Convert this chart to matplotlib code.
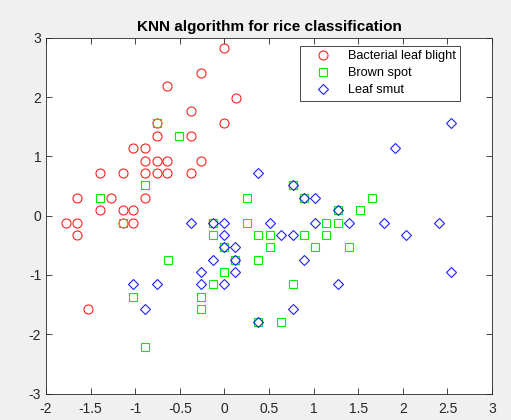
import matplotlib.pyplot as plt

plt.rcParams['font.family'] = ['Liberation Sans', 'DejaVu Sans']
plt.rcParams['axes.unicode_minus'] = False

# Bacterial leaf blight
blb_x = [0.0, -0.26, -0.64, 0.13, -0.38, 0.0, -0.76, -0.76, -0.38, -1.02, -0.89,
         -0.89, -0.76, -0.64, -0.26, -1.40, -1.14, -0.89, -0.76, -0.64, -0.38,
         -1.65, -1.27, -0.89, -1.40, -1.14, -1.02, -1.78, -1.65, -1.14, -1.02,
         -1.65, -1.53]
blb_y = [2.82, 2.40, 2.18, 1.98, 1.76, 1.56, 1.56, 1.34, 1.34, 1.14, 1.14,
         0.93, 0.93, 0.93, 0.93, 0.72, 0.72, 0.72, 0.72, 0.72, 0.72,
         0.30, 0.30, 0.30, 0.09, 0.09, 0.09, -0.12, -0.12, -0.12, -0.12,
         -0.33, -1.58]

# Brown spot
bs_x = [-0.76, -0.51, -0.89, -1.40, -1.14, 0.25, 0.77, 0.89, 1.65, 1.27, 1.52,
        -0.13, 0.25, 1.14, 1.27, -0.13, 0.38, 0.51, 0.89, 1.14, 0.0, 0.51,
        1.01, 1.40, 0.12, 0.38, -0.63, 0.0, -0.13, 0.77, -0.26, -0.26, 0.38,
        0.63, -1.02, -0.89]
bs_y = [1.56, 1.34, 0.51, 0.30, -0.12, 0.30, 0.52, 0.30, 0.30, 0.09, 0.09,
        -0.12, -0.12, -0.12, -0.12, -0.33, -0.33, -0.33, -0.33, -0.33, -0.53, -0.53,
        -0.53, -0.53, -0.74, -0.74, -0.74, -0.95, -1.16, -1.16, -1.37, -1.58, -1.79,
        -1.79, -1.37, -2.21]

# Leaf smut
ls_x = [0.38, 0.77, 0.89, 1.01, 1.27, -0.38, -0.13, 0.0, 0.51, 1.01, 1.40,
        0.0, 0.63, 0.77, 0.0, 0.12, -0.13, 0.12, 0.89, -0.26, 0.12, -0.26,
        0.0, 1.27, 0.77, 0.38, -1.02, -0.76, -0.89, 2.54, 1.91, 1.79, 2.41,
        2.03, 2.54]
ls_y = [0.72, 0.52, 0.30, 0.30, 0.09, -0.12, -0.12, -0.12, -0.12, -0.12, -0.12,
        -0.33, -0.33, -0.33, -0.53, -0.53, -0.74, -0.74, -0.74, -0.95, -0.95, -1.16,
        -1.16, -1.16, -1.58, -1.79, -1.16, -1.16, -1.58, 1.56, 1.14, -0.12, -0.12,
        -0.33, -0.95]

fig = plt.figure(figsize=(5.11, 4.2), dpi=100, facecolor='#f0f0f0')
ax = fig.add_axes([0.090, 0.063, 0.873, 0.847])

ax.plot(blb_x, blb_y, 'o', color='#ff2020', mfc='none', ms=6.5, mew=0.8,
        label='Bacterial leaf blight')
ax.plot(bs_x, bs_y, 's', color='#00ee00', mfc='none', ms=5.5, mew=0.8,
        label='Brown spot')
ax.plot(ls_x, ls_y, 'D', color='#2020ff', mfc='none', ms=5.5, mew=0.8,
        label='Leaf smut')

ax.set_xlim(-2, 3)
ax.set_ylim(-3, 3)
ax.set_xticks([-2, -1.5, -1, -0.5, 0, 0.5, 1, 1.5, 2, 2.5, 3])
ax.set_xticklabels(['-2', '-1.5', '-1', '-0.5', '0', '0.5', '1', '1.5', '2', '2.5', '3'])
ax.set_yticks([-3, -2, -1, 0, 1, 2, 3])
ax.tick_params(direction='in', top=True, right=True, labelsize=10,
               colors='#262626', length=4, width=0.6)
ax.tick_params(axis='x', pad=6)
for s in ax.spines.values():
    s.set_color('#262626')
    s.set_linewidth(0.6)

ax.set_title('KNN algorithm for rice classification', fontsize=11,
             fontweight='bold', pad=5)

leg = ax.legend(loc='upper right', bbox_to_anchor=(0.928, 0.978), borderaxespad=0,
                fontsize=9.2, fancybox=False, framealpha=1, edgecolor='#262626',
                handlelength=3.0, handletextpad=0.4, borderpad=0.35,
                labelspacing=0.4)
leg.get_frame().set_linewidth(0.6)

fig.savefig('out.png', dpi=100, facecolor=fig.get_facecolor())
